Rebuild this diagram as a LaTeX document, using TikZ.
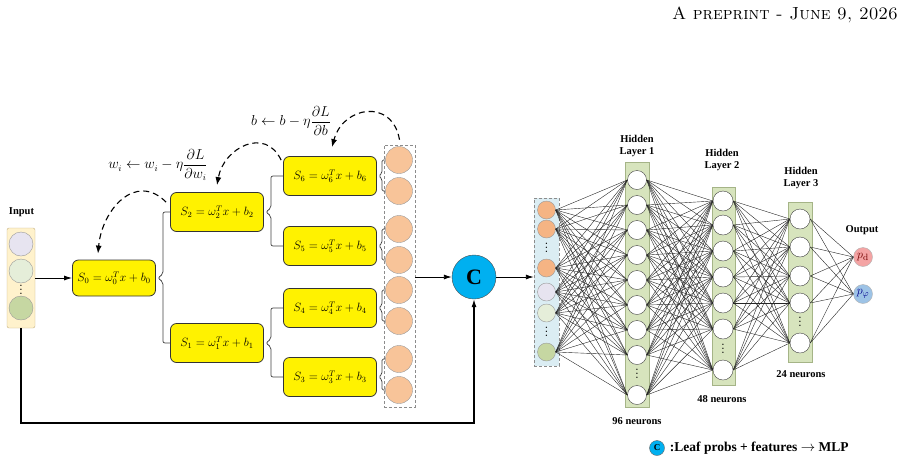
\documentclass[tikz,border=0pt]{standalone}
\usepackage{fontspec}
\newfontfamily\tms{Liberation Serif}
\usetikzlibrary{arrows.meta,positioning}
\definecolor{leafc}{RGB}{248,196,153}
\definecolor{mlpor}{RGB}{245,180,132}
\definecolor{cblue}{RGB}{0,176,240}
\definecolor{inbg}{RGB}{255,242,204}
\definecolor{inedge}{RGB}{196,176,128}
\definecolor{fa}{RGB}{231,228,240}
\definecolor{fb}{RGB}{229,238,217}
\definecolor{fc}{RGB}{198,215,162}
\definecolor{mlpbg}{RGB}{219,237,243}
\definecolor{hidbg}{RGB}{215,228,189}
\definecolor{hidedge}{RGB}{165,180,135}
\definecolor{pdc}{RGB}{244,164,164}
\definecolor{pfc}{RGB}{157,195,230}

\tikzset{
  sbox/.style={draw=black!80, line width=0.8pt, rounded corners=6pt, fill=yellow, minimum width=93pt, minimum height=39pt, inner sep=0pt, font=\fontsize{12}{14}\selectfont},
  leaf/.style={circle, draw=black!40, fill=leafc, minimum size=27pt, inner sep=0pt},
  inn/.style={circle, draw=black!40, minimum size=24pt, inner sep=0pt},
  mn/.style={circle, draw=black!40, minimum size=18pt, inner sep=0pt},
  neuron/.style={circle, draw=black!75, fill=white, minimum size=19pt, inner sep=0pt},
  hid/.style={draw=hidedge, fill=hidbg, line width=0.7pt, minimum width=24pt, inner sep=0pt},
  lbl/.style={font=\fontsize{10.5}{12}\tms\bfseries, align=center},
  vd/.style={inner sep=0pt, font=\fontsize{14}{14}\selectfont},
  upd/.style={font=\fontsize{13.5}{16}\selectfont},
  grad/.style={dash pattern=on 6pt off 4pt, line width=1.1pt, -{Latex[length=8pt,width=6pt]}},
  link/.style={line width=0.9pt, -{Latex[length=8pt,width=5pt]}},
  tree/.style={draw=black!75, line width=0.75pt, rounded corners=2pt},
  wire/.style={black!85, line width=0.4pt},
}

\begin{document}
\begin{tikzpicture}[x=1pt, y=-1pt]
  \useasboundingbox (0,0) rectangle (912,469);

  % header
  \node[anchor=base east, inner sep=0pt, font=\fontsize{17.5}{20}\selectfont] (head) at (898,19) {\textsc{A preprint - June 9, 2026}};

  % input features
  \node[draw=inedge, fill=inbg, rounded corners=2pt, minimum width=28pt, minimum height=100pt] (inbox) at (21,278) {};
  \node[lbl] (inlbl) at (21.5,212) {Input};
  \node[inn, fill=fa] (in1) at (21,244) {};
  \node[inn, fill=fb] (in2) at (21,271) {};
  \node[vd] (indots) at (21,287) {$\vdots$};
  \node[inn, fill=fc] (in3) at (21,308) {};

  % soft tree
  \node[sbox, minimum width=83pt, minimum height=36pt] (S0) at (114,278) {$S_0=\omega_0^T x+b_0$};
  \node[sbox] (S2) at (217,212) {$S_2=\omega_2^T x+b_2$};
  \node[sbox] (S1) at (217,343) {$S_1=\omega_1^T x+b_1$};
  \node[sbox] (S6) at (330,176) {$S_6=\omega_6^T x+b_6$};
  \node[sbox] (S5) at (330,246) {$S_5=\omega_5^T x+b_5$};
  \node[sbox] (S4) at (330,308) {$S_4=\omega_4^T x+b_4$};
  \node[sbox] (S3) at (330,377) {$S_3=\omega_3^T x+b_3$};

  \foreach \a/\b/\m in {S2/S1/S0, S6/S5/S2, S4/S3/S1}
    \draw[tree] (\a.west) -| ([xshift=7pt,yshift=4pt]\m.east) -- ([xshift=2pt]\m.east)
      -- ([xshift=7pt,yshift=-4pt]\m.east) |- (\b.west);

  % leaves
  \node[draw=black!45, dash pattern=on 3pt off 2pt, line width=0.6pt, minimum width=31pt, minimum height=262pt] (leafbox) at (399.5,276) {};
  \foreach \y [count=\k] in {160,191,229,260,290,321,359,390}
    \node[leaf] (l\k) at (399,\y) {};
  \foreach \s/\p/\q in {S6/1/2, S5/3/4, S4/5/6, S3/7/8}
    \draw[tree, rounded corners=1.5pt] (l\p.west) -| ([xshift=5pt,yshift=3pt]\s.east) -- ([xshift=2pt]\s.east)
      -- ([xshift=5pt,yshift=-3pt]\s.east) |- (l\q.west);

  % gradient updates
  \draw[grad] ([xshift=-4pt,yshift=-10pt]S2.north west) to[out=135,in=85,looseness=1.3] ([xshift=-16pt,yshift=6pt]S0.north);
  \draw[grad] ([xshift=-2pt,yshift=-4pt]S6.north west) to[out=115,in=80,looseness=1.4] ([yshift=7pt]S2.north);
  \draw[grad] ([yshift=5pt]leafbox.north) to[out=100,in=75,looseness=1.6] ([xshift=2pt,yshift=9pt]S6.north);
  \node[upd] (gw) at (158,165) {$\displaystyle w_i \leftarrow w_i - \eta\frac{\partial L}{\partial w_i}$};
  \node[upd] (gb) at (291,121) {$\displaystyle b \leftarrow b - \eta\frac{\partial L}{\partial b}$};

  % concatenation
  \node[circle, draw=black!70, fill=cblue, minimum size=44pt, inner sep=0pt, font=\fontsize{22}{24}\tms\bfseries] (C) at (474,277) {C};
  \coordinate (low) at (474,423);
  \draw[link] (inbox) -- (S0);
  \draw[link] (leafbox.east |- C) -- (C);
  \draw[link, line width=1.1pt] (inbox.south) |- (low) -- (C.south);

  % MLP input
  \node[draw=black!45, dash pattern=on 3pt off 2pt, fill=mlpbg, minimum width=25pt, minimum height=168pt] (mlpin) at (546.5,282) {};
  \foreach \y/\c [count=\k] in {210/mlpor,229/mlpor,268/mlpor,292/fa,313/fb,352/fc}
    \node[mn, fill=\c] (m\k) at (546.5,\y) {};
  \node[vd] (md1) at (546.5,245) {$\vdots$};
  \node[vd] (md2) at (546.5,329) {$\vdots$};
  \draw[link] (C.east) -- (C.east -| mlpin.west);

  % hidden layers
  \node[hid, minimum height=245pt] (H1) at (637,284.5) {};
  \node[hid, minimum height=198pt, minimum width=23pt] (H2) at (723.5,286) {};
  \node[hid, minimum height=160pt] (H3) at (800,282) {};
  \foreach \y [count=\k] in {180,205,230,255,280,305,330,355,395}
    \node[neuron] (a\k) at (637,\y) {};
  \foreach \y [count=\k] in {201,225,251,277,303,329,370}
    \node[neuron, minimum size=20pt] (b\k) at (723,\y) {};
  \foreach \y [count=\k] in {219,247,276,303,343}
    \node[neuron, minimum size=20pt] (c\k) at (800,\y) {};
  \node[vd] (ad) at (637,371) {$\vdots$};
  \node[vd] (bd) at (723,346) {$\vdots$};
  \node[vd] (cd) at (800,319) {$\vdots$};

  \node[lbl] (t1) at (637,146) {Hidden\\Layer 1};
  \node[lbl] (t2) at (722,160) {Hidden\\Layer 2};
  \node[lbl] (t3) at (801,178) {Hidden\\Layer 3};
  \node[lbl] (n1) at (637,421) {96 neurons};
  \node[lbl] (n2) at (722,399) {48 neurons};
  \node[lbl] (n3) at (801,374) {24 neurons};

  % output
  \node[lbl] (outlbl) at (862,230) {Output};
  \node[circle, draw=black!30, fill=pdc, minimum size=19pt, inner sep=0pt, text=red!45!black, font=\fontsize{13}{14}\selectfont] (od) at (863,257) {$p_{\mathrm{d}}$};
  \node[circle, draw=black!30, fill=pfc, minimum size=19pt, inner sep=0pt, text=blue!55!black, font=\fontsize{13}{14}\selectfont] (of) at (863,294) {$p_{\varphi}$};

  % full connections
  \foreach \i in {1,...,6} \foreach \j in {1,...,9}
    \draw[wire] (m\i.east) -- (a\j.west);
  \foreach \i in {1,...,9} \foreach \j in {1,...,7}
    \draw[wire] (a\i.east) -- (b\j.west);
  \foreach \i in {1,...,7} \foreach \j in {1,...,5}
    \draw[wire] (b\i.east) -- (c\j.west);
  \foreach \i in {1,...,5} \foreach \j in {od,of}
    \draw[wire] (c\i.east) -- (\j.west);

  % legend
  \node[circle, draw=black!60, fill=cblue, minimum size=15pt, inner sep=0pt, font=\fontsize{9}{10}\tms\bfseries] (legc) at (657,448) {C};
  \node[right=5pt of legc, inner sep=0pt, font=\fontsize{13.5}{15}\tms\bfseries] (legt) {:Leaf probs + features $\rightarrow$ MLP};
\end{tikzpicture}
\end{document}
